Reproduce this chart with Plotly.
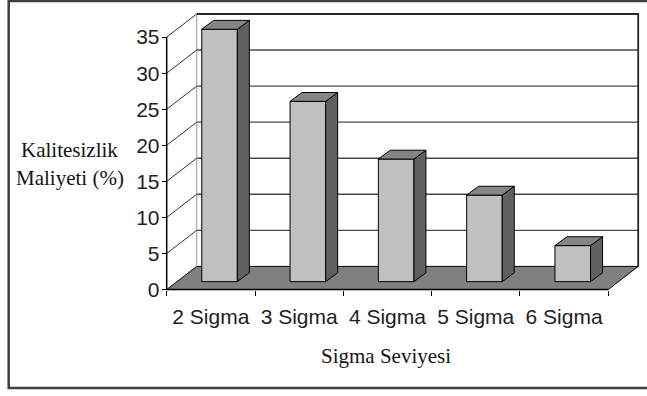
import plotly.graph_objects as go

# ---- data -------------------------------------------------------------
CATEGORIES = ["2 Sigma", "3 Sigma", "4 Sigma", "5 Sigma", "6 Sigma"]
COST_PCT = [35, 25, 17, 12, 5]          # Kalitesizlik maliyeti (%)
Y_TICKS = [0, 5, 10, 15, 20, 25, 30, 35]
Y_TITLE_LINES = ["Kalitesizlik", "Maliyeti (%)"]
X_TITLE = "Sigma Seviyesi"

# ---- layout geometry (pixels) -----------------------------------------
W, H = 647, 396
AXIS_X_PX = 166.7      # front value axis
AXIS_Y_PX = 294.0      # front floor edge (value 0)
CAT_PX = 88.3          # width of one category
UNIT_PX = 7.323        # pixels per value unit
PLOT_L, PLOT_R, PLOT_T, PLOT_B = 158, 643, 8, 299

# 3-D depth of the chart box, in data units
DEPTH_X = 30.0 / CAT_PX
DEPTH_Y = 23.5 / UNIT_PX
# bar placement inside the box
BAR_BASE = 8.0 / UNIT_PX          # front face sits slightly back from the front edge
BAR_WIDTH = 35.6 / CAT_PX
BAR_SHIFT = 8.7 / CAT_PX
BAR_OFFSET = BAR_SHIFT - BAR_WIDTH / 2
SIDE_DX = 12.0 / CAT_PX
SIDE_DY = 9.0 / UNIT_PX

FRONT_COLOR = "#c0c0c0"
SIDE_COLOR = "#606060"
TOP_COLOR = "#858585"
FLOOR_COLOR = "#808080"

x_range = [-0.5 + (PLOT_L - AXIS_X_PX) / CAT_PX, -0.5 + (PLOT_R - AXIS_X_PX) / CAT_PX]
y_range = [(AXIS_Y_PX - PLOT_B) / UNIT_PX, (AXIS_Y_PX - PLOT_T) / UNIT_PX]

n = len(CATEGORIES)
left_edge = -0.5
right_edge = n - 0.5
top_val = max(Y_TICKS)


def poly(points):
    return "M " + " L ".join(f"{x:.4f},{y:.4f}" for x, y in points) + " Z"


shapes = []
# floor
shapes.append(dict(
    type="path", xref="x", yref="y", layer="below",
    path=poly([(left_edge, 0), (right_edge, 0),
               (right_edge + DEPTH_X, DEPTH_Y), (left_edge + DEPTH_X, DEPTH_Y)]),
    fillcolor=FLOOR_COLOR, line=dict(color="#000000", width=1),
))
# back wall grid lines
for v in Y_TICKS[1:-1]:
    shapes.append(dict(
        type="line", xref="x", yref="y", layer="below",
        x0=left_edge + DEPTH_X, x1=right_edge + DEPTH_X,
        y0=v + DEPTH_Y, y1=v + DEPTH_Y,
        line=dict(color="#4a4a4a", width=1.4),
    ))
# back wall left edge
shapes.append(dict(
    type="line", xref="x", yref="y", layer="below",
    x0=left_edge + DEPTH_X, x1=left_edge + DEPTH_X,
    y0=DEPTH_Y, y1=top_val + DEPTH_Y,
    line=dict(color="#9a9a9a", width=1),
))
# back wall top and right edges
shapes.append(dict(
    type="path", xref="x", yref="y", layer="below",
    path=(f"M {left_edge + DEPTH_X:.4f},{top_val + DEPTH_Y:.4f} "
          f"L {right_edge + DEPTH_X:.4f},{top_val + DEPTH_Y:.4f} "
          f"L {right_edge + DEPTH_X:.4f},{DEPTH_Y:.4f}"),
    line=dict(color="#262626", width=1.8),
))
# side wall diagonals
for v in Y_TICKS[1:]:
    shapes.append(dict(
        type="line", xref="x", yref="y", layer="below",
        x0=left_edge, x1=left_edge + DEPTH_X, y0=v, y1=v + DEPTH_Y,
        line=dict(color="#333333", width=1),
    ))
# front value axis line
shapes.append(dict(
    type="line", xref="x", yref="y", layer="below",
    x0=left_edge, x1=left_edge, y0=0, y1=top_val,
    line=dict(color="#000000", width=1.5),
))
# front floor edge
shapes.append(dict(
    type="line", xref="x", yref="y", layer="below",
    x0=left_edge, x1=right_edge, y0=0, y1=0,
    line=dict(color="#000000", width=1.5),
))

# bar side and top faces
for i, v in enumerate(COST_PCT):
    xl = i + BAR_OFFSET
    xr = xl + BAR_WIDTH
    b = BAR_BASE
    t = BAR_BASE + v
    shapes.append(dict(
        type="path", xref="x", yref="y", layer="above",
        path=poly([(xr, b), (xr, t), (xr + SIDE_DX, t + SIDE_DY), (xr + SIDE_DX, b + SIDE_DY)]),
        fillcolor=SIDE_COLOR, line=dict(color="#000000", width=1),
    ))
    shapes.append(dict(
        type="path", xref="x", yref="y", layer="above",
        path=poly([(xl, t), (xr, t), (xr + SIDE_DX, t + SIDE_DY), (xl + SIDE_DX, t + SIDE_DY)]),
        fillcolor=TOP_COLOR, line=dict(color="#000000", width=1),
    ))

# outer chart border
shapes.append(dict(
    type="rect", xref="paper", yref="paper",
    x0=8.7 / W, x1=1.02, y0=1 - 394 / H, y1=1 - 1 / H,
    line=dict(color="#404040", width=2.5), fillcolor="rgba(0,0,0,0)",
))

fig = go.Figure(go.Bar(
    x=CATEGORIES, y=COST_PCT, base=BAR_BASE,
    width=BAR_WIDTH, offset=BAR_OFFSET,
    marker=dict(color=FRONT_COLOR, line=dict(color="#000000", width=1)),
    hoverinfo="skip",
))

tick_font = dict(family="Liberation Sans, Arial, sans-serif", size=21, color="#1e1e1e")
title_font = dict(family="Liberation Serif, Times New Roman, serif", size=21, color="#141414")

annotations = [
    dict(text=Y_TITLE_LINES[0], x=69 / W, y=1 - 152 / H),
    dict(text=Y_TITLE_LINES[1], x=70 / W, y=1 - 181 / H),
    dict(text=X_TITLE, x=386 / W, y=1 - 361 / H),
]
for a in annotations:
    a.update(xref="paper", yref="paper", showarrow=False,
             xanchor="center", yanchor="middle", font=title_font)

fig.update_layout(
    width=W, height=H,
    margin=dict(l=0, r=0, t=0, b=0),
    paper_bgcolor="white", plot_bgcolor="white",
    showlegend=False,
    shapes=shapes,
    annotations=annotations,
    xaxis=dict(
        type="category", range=x_range, domain=[PLOT_L / W, PLOT_R / W],
        anchor="free", position=1 - AXIS_Y_PX / H,
        tickson="boundaries", ticks="outside", ticklen=5, tickwidth=1.3,
        tickcolor="#000000", showgrid=False, zeroline=False, showline=False,
        tickfont=tick_font, ticklabelstandoff=12, fixedrange=True,
    ),
    yaxis=dict(
        range=y_range, domain=[1 - PLOT_B / H, 1 - PLOT_T / H],
        anchor="free", position=AXIS_X_PX / W,
        tickvals=Y_TICKS, ticks="outside", ticklen=5, tickwidth=1.3,
        tickcolor="#000000", showgrid=False, zeroline=False, showline=False,
        tickfont=tick_font, ticklabelstandoff=-2, fixedrange=True,
    ),
)

fig.write_html("out.html")
